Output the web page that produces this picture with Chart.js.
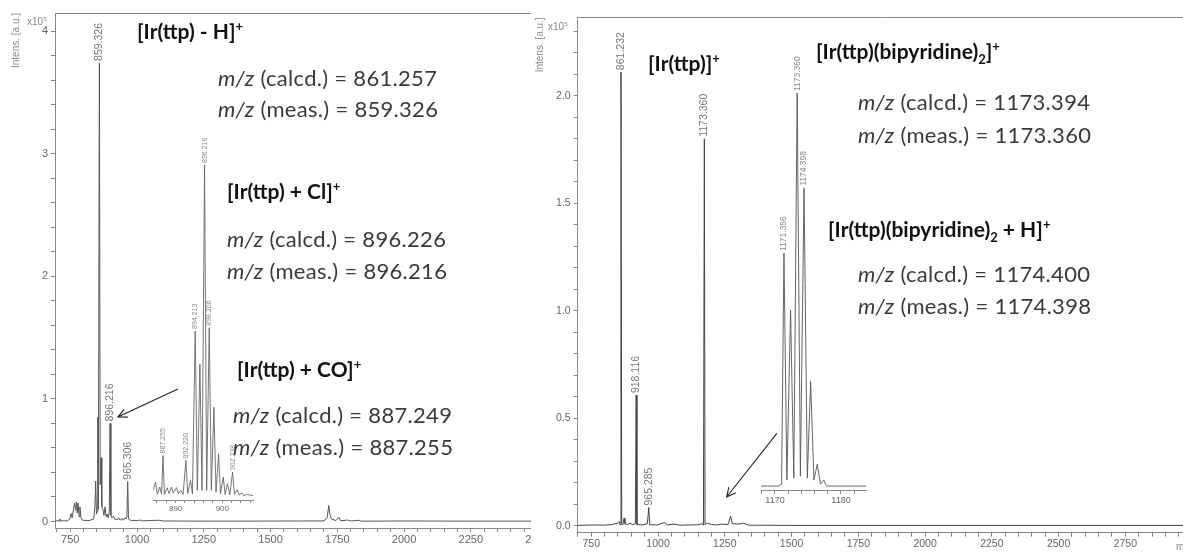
<!DOCTYPE html>
<html>
<head>
<meta charset="utf-8">
<script src="https://cdn.jsdelivr.net/npm/chart.js@4.4.0/dist/chart.umd.min.js"></script>
<style>
body { margin: 0; background: #fff; }
#page { position: relative; width: 1183px; height: 553px; overflow: hidden; background: #fff; }
.box { position: absolute; }
.note { position: absolute; white-space: nowrap; transform: translateY(-50%); line-height: 1; }
.t { font: bold 21px Lato, sans-serif; color: #111; }
.m { font: 22px Lato, sans-serif; color: #3a3a3a; letter-spacing: 0.3px; }
.m i { font-style: italic; }
sup, sub { font-size: 0.62em; line-height: 0; }
.unit { position: absolute; font: 10px "Liberation Sans", Arial, sans-serif; color: #888; white-space: nowrap; }
</style>
</head>
<body>
<div id="page">
  <div class="box" style="left:0;top:0;width:531px;height:553px;overflow:hidden">
    <canvas id="leftMain" width="560" height="553"></canvas>
  </div>
  <div class="box" style="left:533px;top:0;width:650px;height:553px">
    <canvas id="rightMain" width="650" height="553"></canvas>
  </div>
  <canvas id="leftZoom" class="box" style="left:140px;top:110px" width="125" height="420"></canvas>
  <canvas id="rightZoom" class="box" style="left:750px;top:30px" width="130" height="500"></canvas>

  <div class="unit" style="left:27px;top:16px">x10<sup>5</sup></div>
  <div class="unit" style="left:548px;top:21px">x10<sup>5</sup></div>
  <div class="unit" style="left:1176px;top:541px">m/z</div>

  <div class="note t" style="left:137px;top:30px">[Ir(ttp) - H]<sup>+</sup></div>
  <div class="note m" style="left:218px;top:77px"><i>m/z</i> (calcd.) = 861.257</div>
  <div class="note m" style="left:218px;top:108px"><i>m/z</i> (meas.) = 859.326</div>
  <div class="note t" style="left:227px;top:190px">[Ir(ttp) + Cl]<sup>+</sup></div>
  <div class="note m" style="left:227px;top:238px"><i>m/z</i> (calcd.) = 896.226</div>
  <div class="note m" style="left:227px;top:270px"><i>m/z</i> (meas.) = 896.216</div>
  <div class="note t" style="left:237px;top:368px">[Ir(ttp) + CO]<sup>+</sup></div>
  <div class="note m" style="left:233px;top:414px"><i>m/z</i> (calcd.) = 887.249</div>
  <div class="note m" style="left:233px;top:446px"><i>m/z</i> (meas.) = 887.255</div>

  <div class="note t" style="left:648px;top:62px">[Ir(ttp)]<sup>+</sup></div>
  <div class="note t" style="left:816px;top:50px">[Ir(ttp)(bipyridine)<sub>2</sub>]<sup>+</sup></div>
  <div class="note m" style="left:858px;top:101px"><i>m/z</i> (calcd.) = 1173.394</div>
  <div class="note m" style="left:858px;top:134px"><i>m/z</i> (meas.) = 1173.360</div>
  <div class="note t" style="left:828px;top:228px">[Ir(ttp)(bipyridine)<sub>2</sub> + H]<sup>+</sup></div>
  <div class="note m" style="left:858px;top:273px"><i>m/z</i> (calcd.) = 1174.400</div>
  <div class="note m" style="left:858px;top:305px"><i>m/z</i> (meas.) = 1174.398</div>
</div>
<script>
// spectrum traces (m/z, intensity x10^5)
var leftMz = [692, 700, 708, 711, 714, 740, 748, 753, 757, 762, 766, 770, 773, 776, 779, 783, 786, 790, 796, 820,
    838, 842, 845, 848, 851, 853, 855, 859, 862, 865, 868, 872, 876, 880, 884, 888, 892, 896, 899, 902,
    906, 912, 916, 925, 932, 936, 944, 948, 954, 958, 962, 965, 968, 975, 1000, 1010, 1020, 1050, 1080, 1100,
    1300, 1600, 1700, 1712, 1718, 1722, 1728, 1745, 1756, 1762, 1790, 1800, 1830, 1840, 2000, 2300, 2600];
var leftInt = [0.004, 0.006, 0.004, 0.022, 0.005, 0.006, 0.02, 0.065, 0.03, 0.10, 0.15, 0.09, 0.16, 0.07, 0.15, 0.04, 0.12, 0.03, 0.01, 0.008,
    0.02, 0.12, 0.33, 0.06, 0.08, 0.85, 0.10, 3.74, 0.30, 0.52, 0.12, 0.10, 0.05, 0.12, 0.04, 0.06, 0.03, 0.08, 0.80, 0.05,
    0.03, 0.045, 0.02, 0.015, 0.03, 0.01, 0.025, 0.01, 0.03, 0.02, 0.04, 0.325, 0.02, 0.01, 0.006, 0.012, 0.005, 0.008, 0.01, 0.004,
    0.003, 0.004, 0.005, 0.03, 0.13, 0.06, 0.02, 0.008, 0.035, 0.006, 0.012, 0.004, 0.01, 0.003, 0.004, 0.003, 0.003];

var rightMz = [699, 760, 800, 830, 848, 855, 858, 861.2, 864, 868, 873, 876, 885, 895, 905, 915, 918.1, 921, 940, 960,
    965.3, 969, 1000, 1015, 1025, 1035, 1060, 1080, 1150, 1165, 1170, 1173.4, 1176, 1185, 1200, 1220, 1240, 1262, 1272, 1278,
    1300, 1320, 1340, 1500, 2000, 2966];
var rightInt = [0.002, 0.004, 0.003, 0.006, 0.012, 0.02, 0.004, 2.11, 0.01, 0.004, 0.035, 0.01, 0.006, 0.012, 0.005, 0.01, 0.608, 0.006, 0.004, 0.01,
    0.085, 0.005, 0.004, 0.012, 0.015, 0.004, 0.008, 0.003, 0.005, 0.01, 0.003, 1.80, 0.006, 0.012, 0.006, 0.004, 0.008, 0.006, 0.045, 0.01,
    0.008, 0.012, 0.003, 0.002, 0.002, 0.002];

// inset traces (relative intensity)
var leftZoomMz = [885.2, 885.7, 886.1, 886.6, 887.0, 887.3, 887.6, 888.2, 888.6, 889.1, 889.5, 890.2, 890.6, 891.1, 891.6,
    892.2, 892.6, 893.2, 893.6, 894.2, 894.65, 895.2, 895.65, 896.2, 896.65, 897.2, 897.65, 898.2, 898.65, 899.2,
    899.6, 900.2, 900.6, 901.1, 901.6, 902.2, 902.6, 903.2, 903.6, 904.2, 904.6, 905.2, 906.6];
var leftZoomInt = [0.02, 0.045, 0.008, 0.03, 0.008, 0.125, 0.008, 0.028, 0.01, 0.03, 0.012, 0.028, 0.01, 0.02, 0.008,
    0.11, 0.01, 0.05, 0.01, 0.50, 0.02, 0.40, 0.02, 1.00, 0.02, 0.51, 0.02, 0.27, 0.015, 0.13,
    0.01, 0.06, 0.008, 0.04, 0.006, 0.075, 0.008, 0.022, 0.006, 0.012, 0.004, 0.008, 0.004];

var rightZoomMz = [1167.9, 1170.5, 1171.0, 1171.36, 1171.8, 1172.36, 1172.85, 1173.36, 1173.85, 1174.4, 1174.9,
    1175.4, 1175.9, 1176.4, 1176.9, 1177.4, 1177.8, 1183.8];
var rightZoomInt = [0.005, 0.005, 0.01, 0.595, 0.02, 0.45, 0.025, 1.0, 0.03, 0.76, 0.025,
    0.27, 0.02, 0.06, 0.01, 0.02, 0.005, 0.005];

// peak labels
var leftLabelMz = [859, 899, 965];
var leftLabelInt = [3.74, 0.80, 0.325];
var leftLabelText = ["859.326", "896.216", "965.306"];
var rightLabelMz = [861.2, 918.1, 965.3, 1173.4];
var rightLabelInt = [2.11, 0.608, 0.085, 1.80];
var rightLabelText = ["861.232", "918.116", "965.285", "1173.360"];
var leftZoomLabelMz = [887.3, 892.2, 894.2, 896.2, 897.2, 902.2];
var leftZoomLabelInt = [0.125, 0.11, 0.50, 1.00, 0.51, 0.075];
var leftZoomLabelText = ["887.255", "892.220", "894.213", "896.216", "898.206", "902.238"];
var rightZoomLabelMz = [1171.36, 1173.36, 1174.4];
var rightZoomLabelInt = [0.595, 1.0, 0.76];
var rightZoomLabelText = ["1171.356", "1173.360", "1174.398"];

// tick labels
var mainXLabels = [750, 1000, 1250, 1500, 1750, 2000, 2250, 2500, 2750];
var leftYLabels = [0, 1, 2, 3, 4];
var rightYLabels = [0, 0.5, 1, 1.5, 2];
var leftZoomXLabels = [890, 900];
var rightZoomXLabels = [1170, 1180];

// arrows [m/z, intensity] from -> to
var leftArrow = [[1153, 1.08], [928, 0.852]];
var rightArrow = [[1445, 0.43], [1257, 0.134]];

var axisColor = "#8a8a8a";
var tickColor = "#666";

function points(xs, ys) {
    var out = [];
    for (var i = 0; i < xs.length; i++) {
        out.push({x: xs[i], y: ys[i]});
    }
    return out;
}

function hasValue(list, v) {
    for (var i = 0; i < list.length; i++) {
        if (Math.abs(list[i] - v) < 1e-6) return true;
    }
    return false;
}

// tick marks every `step` inside the scale range
function stepTicks(step) {
    return function (scale) {
        var ticks = [];
        var first = Math.ceil(scale.min / step - 1e-9);
        for (var i = first; i * step <= scale.max + 1e-9; i++) {
            ticks.push({value: Math.round(i * step * 1000) / 1000});
        }
        scale.ticks = ticks;
    };
}

function peakLabelPlugin(mz, inten, text, font, color, gap) {
    return {
        id: "peakLabels",
        afterDatasetsDraw: function (chart) {
            var ctx = chart.ctx;
            ctx.save();
            ctx.font = font;
            ctx.fillStyle = color;
            ctx.textAlign = "left";
            ctx.textBaseline = "middle";
            for (var i = 0; i < mz.length; i++) {
                var x = chart.scales.x.getPixelForValue(mz[i]);
                var y = chart.scales.y.getPixelForValue(inten[i]);
                ctx.save();
                ctx.translate(x, y - gap);
                ctx.rotate(-Math.PI / 2);
                ctx.fillText(text[i], 0, 0);
                ctx.restore();
            }
            ctx.restore();
        }
    };
}

function arrowPlugin(arrow) {
    return {
        id: "arrow",
        afterDatasetsDraw: function (chart) {
            var sx = chart.scales.x, sy = chart.scales.y, ctx = chart.ctx;
            var x1 = sx.getPixelForValue(arrow[0][0]), y1 = sy.getPixelForValue(arrow[0][1]);
            var x2 = sx.getPixelForValue(arrow[1][0]), y2 = sy.getPixelForValue(arrow[1][1]);
            var a = Math.atan2(y2 - y1, x2 - x1);
            ctx.save();
            ctx.strokeStyle = "#222";
            ctx.lineWidth = 1.1;
            ctx.beginPath();
            ctx.moveTo(x1, y1);
            ctx.lineTo(x2, y2);
            ctx.moveTo(x2 - 10 * Math.cos(a - 0.45), y2 - 10 * Math.sin(a - 0.45));
            ctx.lineTo(x2, y2);
            ctx.lineTo(x2 - 10 * Math.cos(a + 0.45), y2 - 10 * Math.sin(a + 0.45));
            ctx.stroke();
            ctx.restore();
        }
    };
}

function xAxis(min, max, step, labels, height, fontSize, tickLen) {
    return {
        type: "linear", position: "bottom", min: min, max: max,
        border: {color: axisColor},
        grid: {drawOnChartArea: false, tickLength: tickLen, color: axisColor, tickColor: axisColor},
        afterBuildTicks: stepTicks(step),
        ticks: {
            autoSkip: false, maxRotation: 0, padding: 1,
            color: tickColor, font: {family: "'Liberation Sans', Arial", size: fontSize},
            callback: function (v) { return hasValue(labels, v) ? String(v) : ""; }
        },
        afterFit: function (s) { s.height = height; }
    };
}

function topAxis(min, max) {
    return {
        type: "linear", position: "top", min: min, max: max,
        border: {color: axisColor},
        grid: {display: false},
        ticks: {display: false},
        afterFit: function (s) { s.height = 0; }
    };
}

function yAxis(min, max, step, labels, width, fontSize, digits, titlePad) {
    return {
        type: "linear", position: "left", min: min, max: max,
        border: {color: axisColor},
        grid: {drawOnChartArea: false, tickLength: 4, color: axisColor, tickColor: axisColor},
        afterBuildTicks: stepTicks(step),
        ticks: {
            autoSkip: false, padding: 3,
            color: tickColor, font: {family: "'Liberation Sans', Arial", size: fontSize},
            callback: function (v) { return hasValue(labels, v) ? Number(v).toFixed(digits) : ""; }
        },
        title: {
            display: true, text: "Intens. [a.u.]", align: "end", color: "#8a8a8a",
            font: {family: "'Liberation Sans', Arial", size: 10}, padding: {top: titlePad, bottom: 0}
        },
        afterFit: function (s) { s.width = width; }
    };
}

function buildChart(id, data, color, width, scales, padding, plugins) {
    return new Chart(document.getElementById(id), {
        type: "line",
        data: {
            datasets: [{
                data: data,
                borderColor: color,
                borderWidth: width,
                pointRadius: 0,
                tension: 0,
                fill: false
            }]
        },
        options: {
            responsive: false,
            animation: false,
            events: [],
            layout: {padding: padding},
            plugins: {legend: {display: false}, tooltip: {enabled: false}},
            scales: scales
        },
        plugins: plugins
    });
}

buildChart("leftMain", points(leftMz, leftInt), "#555", 1, {
    x: xAxis(692.7, 2576.6, 50, mainXLabels, 25, 11, 4),
    xTop: topAxis(692.7, 2576.6),
    y: yAxis(-0.053, 4.147, 0.2, leftYLabels, 55, 11, 0, 10)
}, {top: 13, right: 2, left: 0, bottom: 0}, [
    peakLabelPlugin(leftLabelMz, leftLabelInt, leftLabelText, "10.5px 'Liberation Sans', Arial", "#777", 2),
    arrowPlugin(leftArrow)
]);

buildChart("rightMain", points(rightMz, rightInt), "#444", 1, {
    x: xAxis(699.1, 2966, 50, mainXLabels, 20.3, 10.5, 4),
    xTop: topAxis(699.1, 2966),
    y: yAxis(-0.032, 2.365, 0.1, rightYLabels, 44.7, 10.5, 1, 1)
}, {top: 17.3, right: 0, left: 0, bottom: 0}, [
    peakLabelPlugin(rightLabelMz, rightLabelInt, rightLabelText, "10.5px 'Liberation Sans', Arial", "#777", 2),
    arrowPlugin(rightArrow)
]);

buildChart("leftZoom", points(leftZoomMz, leftZoomInt), "#666", 0.9, {
    x: xAxis(885.2, 906.57, 2, leftZoomXLabels, 30, 8, 3),
    y: {type: "linear", display: false, min: -0.009, max: 1.1355}
}, {top: 10, right: 12, left: 13.2, bottom: 0}, [
    peakLabelPlugin(leftZoomLabelMz, leftZoomLabelInt, leftZoomLabelText, "7px 'Liberation Sans', Arial", "#888", 2)
]);

buildChart("rightZoom", points(rightZoomMz, rightZoomInt), "#555", 0.9, {
    x: xAxis(1167.88, 1183.79, 2, rightZoomXLabels, 40, 9, 4),
    y: {type: "linear", display: false, min: -0.005, max: 1.033}
}, {top: 50, right: 14, left: 11, bottom: 0}, [
    peakLabelPlugin(rightZoomLabelMz, rightZoomLabelInt, rightZoomLabelText, "8.5px 'Liberation Sans', Arial", "#888", 2)
]);
</script>
</body>
</html>
